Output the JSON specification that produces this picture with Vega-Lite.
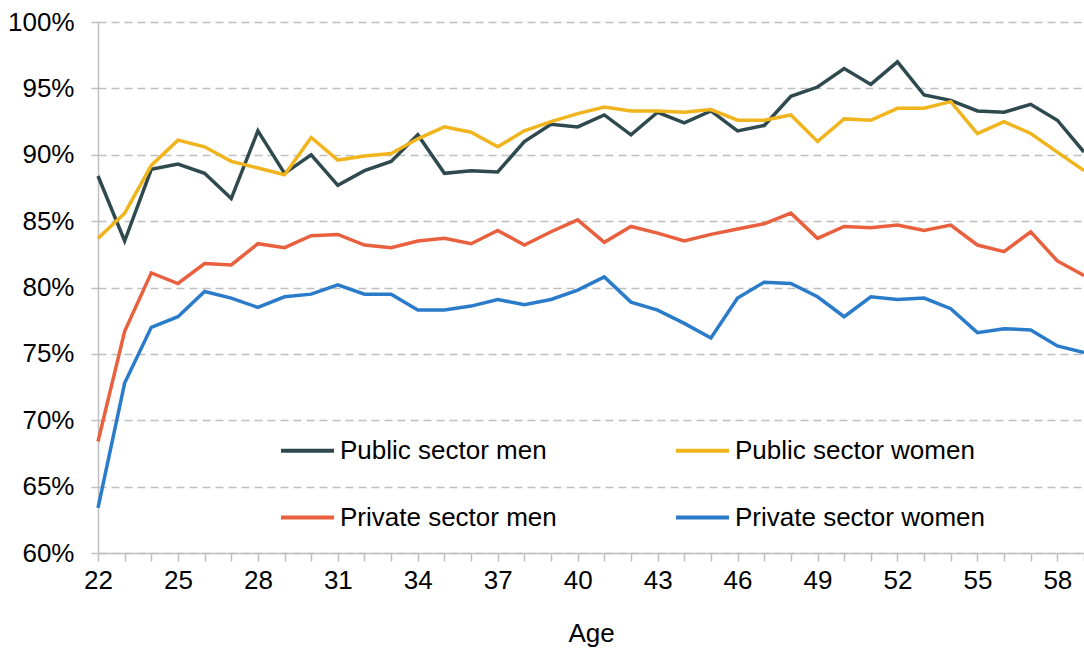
{
  "$schema": "https://vega.github.io/schema/vega-lite/v6.json",
  "width": 986,
  "height": 531,
  "autosize": {"type": "none"},
  "padding": {"left": 98, "top": 22, "right": 0, "bottom": 95},
  "background": "white",
  "config": {
    "font": "Liberation Sans",
    "view": {"stroke": null},
    "axis": {"labelFont": "Liberation Sans", "titleFont": "Liberation Sans", "labelColor": "#000000", "titleColor": "#000000"}
  },
  "data": {"values": [
    {"age":22,"s":"Public sector men","v":88.4},{"age":23,"s":"Public sector men","v":83.5},{"age":24,"s":"Public sector men","v":88.9},{"age":25,"s":"Public sector men","v":89.3},{"age":26,"s":"Public sector men","v":88.6},{"age":27,"s":"Public sector men","v":86.7},{"age":28,"s":"Public sector men","v":91.8},{"age":29,"s":"Public sector men","v":88.6},{"age":30,"s":"Public sector men","v":90.0},{"age":31,"s":"Public sector men","v":87.7},{"age":32,"s":"Public sector men","v":88.8},{"age":33,"s":"Public sector men","v":89.5},{"age":34,"s":"Public sector men","v":91.5},{"age":35,"s":"Public sector men","v":88.6},{"age":36,"s":"Public sector men","v":88.8},{"age":37,"s":"Public sector men","v":88.7},{"age":38,"s":"Public sector men","v":91.0},{"age":39,"s":"Public sector men","v":92.3},{"age":40,"s":"Public sector men","v":92.1},{"age":41,"s":"Public sector men","v":93.0},{"age":42,"s":"Public sector men","v":91.5},{"age":43,"s":"Public sector men","v":93.2},{"age":44,"s":"Public sector men","v":92.4},{"age":45,"s":"Public sector men","v":93.3},{"age":46,"s":"Public sector men","v":91.8},{"age":47,"s":"Public sector men","v":92.2},{"age":48,"s":"Public sector men","v":94.4},{"age":49,"s":"Public sector men","v":95.1},{"age":50,"s":"Public sector men","v":96.5},{"age":51,"s":"Public sector men","v":95.3},{"age":52,"s":"Public sector men","v":97.0},{"age":53,"s":"Public sector men","v":94.5},{"age":54,"s":"Public sector men","v":94.1},{"age":55,"s":"Public sector men","v":93.3},{"age":56,"s":"Public sector men","v":93.2},{"age":57,"s":"Public sector men","v":93.8},{"age":58,"s":"Public sector men","v":92.6},{"age":59,"s":"Public sector men","v":90.2},
    {"age":22,"s":"Public sector women","v":83.7},{"age":23,"s":"Public sector women","v":85.6},{"age":24,"s":"Public sector women","v":89.2},{"age":25,"s":"Public sector women","v":91.1},{"age":26,"s":"Public sector women","v":90.6},{"age":27,"s":"Public sector women","v":89.5},{"age":28,"s":"Public sector women","v":89.0},{"age":29,"s":"Public sector women","v":88.5},{"age":30,"s":"Public sector women","v":91.3},{"age":31,"s":"Public sector women","v":89.6},{"age":32,"s":"Public sector women","v":89.9},{"age":33,"s":"Public sector women","v":90.1},{"age":34,"s":"Public sector women","v":91.2},{"age":35,"s":"Public sector women","v":92.1},{"age":36,"s":"Public sector women","v":91.7},{"age":37,"s":"Public sector women","v":90.6},{"age":38,"s":"Public sector women","v":91.8},{"age":39,"s":"Public sector women","v":92.5},{"age":40,"s":"Public sector women","v":93.1},{"age":41,"s":"Public sector women","v":93.6},{"age":42,"s":"Public sector women","v":93.3},{"age":43,"s":"Public sector women","v":93.3},{"age":44,"s":"Public sector women","v":93.2},{"age":45,"s":"Public sector women","v":93.4},{"age":46,"s":"Public sector women","v":92.6},{"age":47,"s":"Public sector women","v":92.6},{"age":48,"s":"Public sector women","v":93.0},{"age":49,"s":"Public sector women","v":91.0},{"age":50,"s":"Public sector women","v":92.7},{"age":51,"s":"Public sector women","v":92.6},{"age":52,"s":"Public sector women","v":93.5},{"age":53,"s":"Public sector women","v":93.5},{"age":54,"s":"Public sector women","v":94.0},{"age":55,"s":"Public sector women","v":91.6},{"age":56,"s":"Public sector women","v":92.5},{"age":57,"s":"Public sector women","v":91.6},{"age":58,"s":"Public sector women","v":90.2},{"age":59,"s":"Public sector women","v":88.8},
    {"age":22,"s":"Private sector men","v":68.4},{"age":23,"s":"Private sector men","v":76.7},{"age":24,"s":"Private sector men","v":81.1},{"age":25,"s":"Private sector men","v":80.3},{"age":26,"s":"Private sector men","v":81.8},{"age":27,"s":"Private sector men","v":81.7},{"age":28,"s":"Private sector men","v":83.3},{"age":29,"s":"Private sector men","v":83.0},{"age":30,"s":"Private sector men","v":83.9},{"age":31,"s":"Private sector men","v":84.0},{"age":32,"s":"Private sector men","v":83.2},{"age":33,"s":"Private sector men","v":83.0},{"age":34,"s":"Private sector men","v":83.5},{"age":35,"s":"Private sector men","v":83.7},{"age":36,"s":"Private sector men","v":83.3},{"age":37,"s":"Private sector men","v":84.3},{"age":38,"s":"Private sector men","v":83.2},{"age":39,"s":"Private sector men","v":84.2},{"age":40,"s":"Private sector men","v":85.1},{"age":41,"s":"Private sector men","v":83.4},{"age":42,"s":"Private sector men","v":84.6},{"age":43,"s":"Private sector men","v":84.1},{"age":44,"s":"Private sector men","v":83.5},{"age":45,"s":"Private sector men","v":84.0},{"age":46,"s":"Private sector men","v":84.4},{"age":47,"s":"Private sector men","v":84.8},{"age":48,"s":"Private sector men","v":85.6},{"age":49,"s":"Private sector men","v":83.7},{"age":50,"s":"Private sector men","v":84.6},{"age":51,"s":"Private sector men","v":84.5},{"age":52,"s":"Private sector men","v":84.7},{"age":53,"s":"Private sector men","v":84.3},{"age":54,"s":"Private sector men","v":84.7},{"age":55,"s":"Private sector men","v":83.2},{"age":56,"s":"Private sector men","v":82.7},{"age":57,"s":"Private sector men","v":84.2},{"age":58,"s":"Private sector men","v":82.0},{"age":59,"s":"Private sector men","v":80.9},
    {"age":22,"s":"Private sector women","v":63.4},{"age":23,"s":"Private sector women","v":72.8},{"age":24,"s":"Private sector women","v":77.0},{"age":25,"s":"Private sector women","v":77.8},{"age":26,"s":"Private sector women","v":79.7},{"age":27,"s":"Private sector women","v":79.2},{"age":28,"s":"Private sector women","v":78.5},{"age":29,"s":"Private sector women","v":79.3},{"age":30,"s":"Private sector women","v":79.5},{"age":31,"s":"Private sector women","v":80.2},{"age":32,"s":"Private sector women","v":79.5},{"age":33,"s":"Private sector women","v":79.5},{"age":34,"s":"Private sector women","v":78.3},{"age":35,"s":"Private sector women","v":78.3},{"age":36,"s":"Private sector women","v":78.6},{"age":37,"s":"Private sector women","v":79.1},{"age":38,"s":"Private sector women","v":78.7},{"age":39,"s":"Private sector women","v":79.1},{"age":40,"s":"Private sector women","v":79.8},{"age":41,"s":"Private sector women","v":80.8},{"age":42,"s":"Private sector women","v":78.9},{"age":43,"s":"Private sector women","v":78.3},{"age":44,"s":"Private sector women","v":77.3},{"age":45,"s":"Private sector women","v":76.2},{"age":46,"s":"Private sector women","v":79.2},{"age":47,"s":"Private sector women","v":80.4},{"age":48,"s":"Private sector women","v":80.3},{"age":49,"s":"Private sector women","v":79.3},{"age":50,"s":"Private sector women","v":77.8},{"age":51,"s":"Private sector women","v":79.3},{"age":52,"s":"Private sector women","v":79.1},{"age":53,"s":"Private sector women","v":79.2},{"age":54,"s":"Private sector women","v":78.4},{"age":55,"s":"Private sector women","v":76.6},{"age":56,"s":"Private sector women","v":76.9},{"age":57,"s":"Private sector women","v":76.8},{"age":58,"s":"Private sector women","v":75.6},{"age":59,"s":"Private sector women","v":75.1}
  ]},
  "mark": {"type": "line", "strokeWidth": 3.5, "clip": false},
  "encoding": {
    "x": {
      "field": "age", "type": "quantitative",
      "scale": {"domain": [22, 59], "nice": false, "zero": false},
      "axis": {
        "title": "Age", "titleFontSize": 26, "titleFontWeight": "normal", "titlePadding": 27,
        "values": [22,23,24,25,26,27,28,29,30,31,32,33,34,35,36,37,38,39,40,41,42,43,44,45,46,47,48,49,50,51,52,53,54,55,56,57,58,59],
        "labelExpr": "(datum.value - 22) % 3 == 0 ? datum.label : ''",
        "labelFontSize": 26, "labelPadding": 6, "labelFlush": false, "labelOverlap": false,
        "tickSize": 8, "tickColor": "#BFBFBF", "tickWidth": 1.5,
        "domainColor": "#BFBFBF", "domainWidth": 1.5, "grid": false
      }
    },
    "y": {
      "field": "v", "type": "quantitative",
      "scale": {"domain": [60, 100], "nice": false, "zero": false},
      "axis": {
        "title": null,
        "values": [60,65,70,75,80,85,90,95,100],
        "labelExpr": "datum.value + '%'",
        "labelFontSize": 26, "labelPadding": 17,
        "tickSize": 7, "tickColor": "#BFBFBF", "tickWidth": 1.5,
        "domainColor": "#BFBFBF", "domainWidth": 1.5,
        "grid": true, "gridColor": "#BFBFBF", "gridWidth": 1.5, "gridDash": [8, 5]
      }
    },
    "color": {
      "field": "s", "type": "nominal",
      "scale": {
        "domain": ["Public sector men", "Public sector women", "Private sector men", "Private sector women"],
        "range": ["#2F4A4F", "#F0B41C", "#E9603F", "#2B7BCB"]
      },
      "legend": {
        "title": null, "orient": "none", "legendX": 181, "legendY": 400, "direction": "horizontal",
        "columns": 2, "columnPadding": 111, "rowPadding": 25, "padding": 0,
        "symbolType": "stroke", "symbolSize": 2809, "symbolStrokeWidth": 4,
        "labelFontSize": 26, "labelOffset": 4, "labelColor": "#000000", "labelLimit": 400
      }
    }
  }
}
